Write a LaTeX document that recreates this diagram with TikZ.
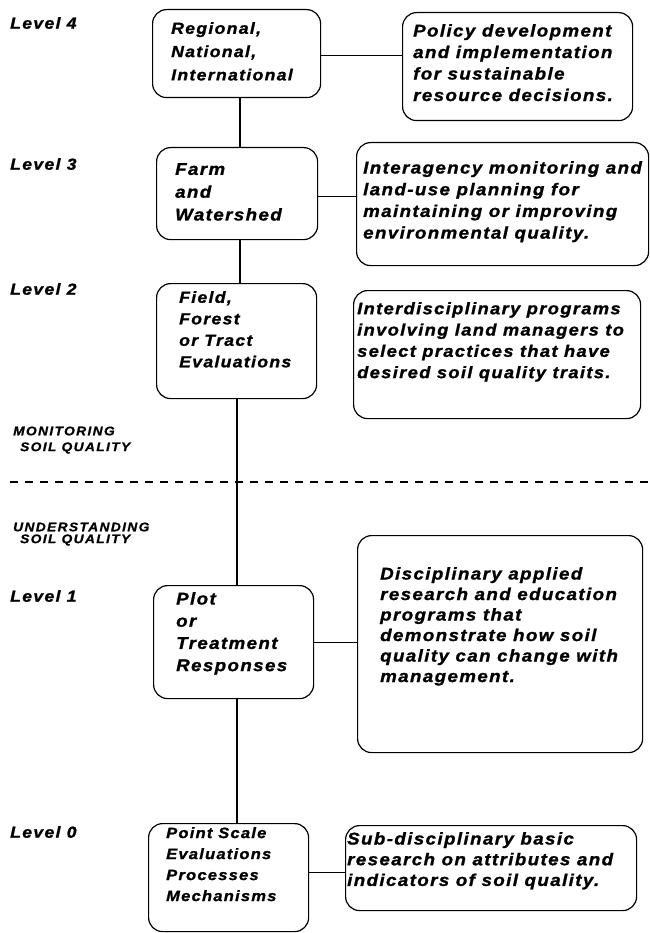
\documentclass[tikz,border=0pt]{standalone}
\usepackage{fontspec}
\newfontface\bifont{Liberation Sans Bold Italic}[FakeStretch=1.1,LetterSpace=8.3,FakeBold=1.2]
\newfontface\capfont{Liberation Sans Bold Italic}[FakeStretch=1.1,LetterSpace=11,FakeBold=1]
\usetikzlibrary{calc}
\newcommand\bodyfont{\bifont\fontsize{17}{21.5}\selectfont}
\newcommand\midfont{\bifont\fontsize{16}{21.5}\selectfont}
\newcommand\narrowfont{\bifont\fontsize{15}{21}\selectfont}
\newcommand\sectfont{\capfont\fontsize{12.5}{17}\selectfont}
\begin{document}
\begin{tikzpicture}[x=1pt,y=-1pt,
  box/.style={draw,line width=1.2pt,rounded corners=14pt,inner sep=0pt,anchor=north west},
  txt/.style={anchor=north west,inner sep=0pt,align=left,font=\bodyfont},
  lvl/.style={anchor=west,inner sep=0pt,font=\midfont},
  sect/.style={anchor=west,inner sep=0pt,align=left,font=\sectfont},
  conn/.style={line width=1.1pt},
  sep/.style={line width=1.3pt,dash pattern=on 8pt off 7pt}]
\useasboundingbox (0,0) rectangle (649,933);
% left boxes
\node[box,minimum width=168pt,minimum height=88pt] (L4) at (152,9) {};
\node[box,minimum width=161pt,minimum height=92pt] (L3) at (156,147) {};
\node[box,minimum width=160pt,minimum height=115pt] (L2) at (156,283) {};
\node[box,minimum width=160pt,minimum height=113pt] (L1) at (153,585) {};
\node[box,minimum width=160pt,minimum height=108pt] (L0) at (148,823) {};
% right boxes
\node[box,minimum width=230pt,minimum height=108pt] (R4) at (402,12) {};
\node[box,minimum width=292pt,minimum height=123pt] (R3) at (356,142) {};
\node[box,minimum width=287pt,minimum height=128pt] (R2) at (353,290) {};
\node[box,minimum width=285pt,minimum height=217pt] (R1) at (357,535) {};
\node[box,minimum width=291pt,minimum height=85pt] (R0) at (345,825) {};
% texts
\node[txt,font=\midfont,font=\bifont\fontsize{16}{23.3}\selectfont] (L4t) at (171,22) {Regional,\\National,\\International};
\node[txt,font=\bifont\fontsize{17}{22.8}\selectfont] (L3t) at (175,163) {Farm\\and\\Watershed};
\node[txt,font=\midfont] (L2t) at (179,291) {Field,\\Forest\\or Tract\\Evaluations};
\node[txt,font=\bifont\fontsize{17}{22.2}\selectfont] (L1t) at (176,592) {Plot\\or\\Treatment\\Responses};
\node[txt,font=\narrowfont] (L0t) at (166,827) {Point Scale\\Evaluations\\Processes\\Mechanisms};
\node[txt] (R4t) at (413,24) {Policy development\\and implementation\\for sustainable\\resource decisions.};
\node[txt,font=\bifont\fontsize{17}{21.7}\selectfont] (R3t) at (363,161) {Interagency monitoring and\\land-use planning for\\maintaining or improving\\environmental quality.};
\node[txt,font=\bifont\fontsize{16.6}{21.3}\selectfont] (R2t) at (357,302) {Interdisciplinary programs\\involving land managers to\\select practices that have\\desired soil quality traits.};
\node[txt,font=\bifont\fontsize{17}{20.5}\selectfont] (R1t) at (380,567) {Disciplinary applied\\research and education\\programs that\\demonstrate how soil\\quality can change with\\management.};
\node[txt,font=\bifont\fontsize{17}{20.7}\selectfont] (R0t) at (347,832) {Sub-disciplinary basic\\research on attributes and\\indicators of soil quality.};
% level labels
\node[lvl] (lv4) at (10,23) {Level 4};
\node[lvl] (lv3) at (10,164) {Level 3};
\node[lvl] (lv2) at (10,289) {Level 2};
\node[lvl] (lv1) at (10,596) {Level 1};
\node[lvl] (lv0) at (10,832) {Level 0};
\node[sect] (mon1) at (13,431) {MONITORING};
\node[sect] (mon2) at (20,448) {SOIL QUALITY};
\node[sect] (und1) at (13,527) {UNDERSTANDING};
\node[sect] (und2) at (20,540) {SOIL QUALITY};
% spine coordinates
\coordinate (sp1) at (240,0);
\coordinate (sp2) at (237,0);
\draw[conn] (L4.south -| sp1) -- (L3.north -| sp1);
\draw[conn] (L3.south -| sp1) -- (L2.north -| sp1);
\draw[conn] (L2.south -| sp2) -- (L1.north -| sp2);
\draw[conn] (L1.south -| sp2) -- (L0.north -| sp2);
% horizontal connectors
\draw[conn] ($(L4.east)+(0,2)$) -- ($(L4.east -| R4.west)+(0,2)$);
\draw[conn] ($(L3.east)+(0,3)$) -- ($(L3.east -| R3.west)+(0,3)$);
\draw[conn] (L1.east) -- (L1.east -| R1.west);
\draw[conn] ($(L0.east)+(0,-5)$) -- ($(L0.east -| R0.west)+(0,-5)$);
% dashed separator
\coordinate (dl) at (10,482);
\coordinate (dr) at (649,482);
\draw[sep] (dl) -- (dr);
\end{tikzpicture}
\end{document}
